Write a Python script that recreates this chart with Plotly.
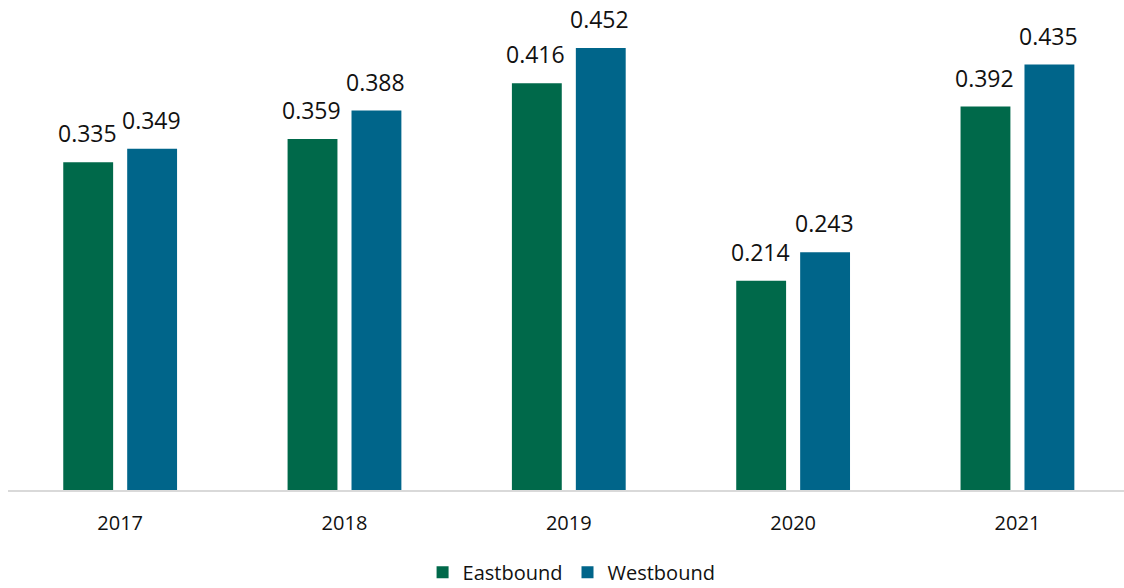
import plotly.graph_objects as go

years = ["2017", "2018", "2019", "2020", "2021"]
eastbound = [0.335, 0.359, 0.416, 0.214, 0.392]
westbound = [0.349, 0.388, 0.452, 0.243, 0.435]

GREEN = "#00694A"
BLUE = "#00658A"
FONT = "Open Sans"

fig = go.Figure()
fig.add_trace(go.Bar(name="Eastbound", x=years, y=eastbound, marker_color=GREEN,
                     marker_line_width=0))
fig.add_trace(go.Bar(name="Westbound", x=years, y=westbound, marker_color=BLUE,
                     marker_line_width=0))

for vals, shift in ((eastbound, -33), (westbound, 31)):
    for i, v in enumerate(vals):
        fig.add_annotation(x=i, y=v, xref="x", yref="y", text=f"{v:.3f}",
                           showarrow=False, yanchor="bottom", xanchor="center",
                           xshift=shift, yshift=11,
                           font=dict(family=FONT, size=23, color="#111111"))

fig.update_layout(
    width=1124, height=588,
    margin=dict(l=8, r=0, t=1, b=98, autoexpand=False),
    paper_bgcolor="white", plot_bgcolor="white",
    barmode="group", bargap=0.43, bargroupgap=0.22,
    font=dict(family=FONT, color="#111111"),
    showlegend=True,
    legend=dict(orientation="h", x=0.505, xanchor="center", y=-0.168, yanchor="middle",
                font=dict(family=FONT, size=20, color="#111111"),
                itemwidth=30, traceorder="normal"),
    xaxis=dict(type="category", range=[-0.5, 4.475], showgrid=False, showline=True,
               linecolor="#d9d9d9", linewidth=2, ticks="",
               tickfont=dict(family=FONT, size=20, color="#111111"),
               ticklabelstandoff=14, automargin=False),
    yaxis=dict(range=[0, 0.5], showticklabels=False, showline=False, showgrid=False,
               zeroline=False, ticks="", automargin=False),
)

fig.write_html("out.html", config={"displayModeBar": False},
               post_script="document.body.style.margin='0';")
